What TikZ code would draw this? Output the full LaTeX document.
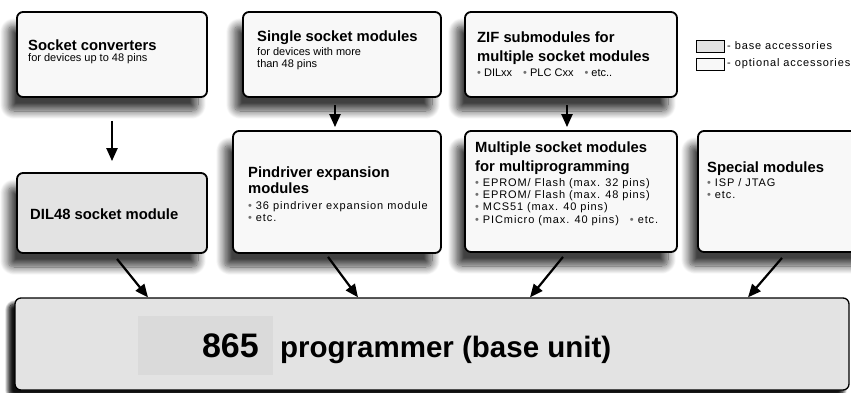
\documentclass[tikz,border=0pt]{standalone}
\usepackage{fontspec}
\setmainfont{Liberation Sans}
\newfontfamily\widefont[LetterSpace=8]{Liberation Sans}
\usetikzlibrary{arrows.meta,shadows.blur}

\definecolor{basefill}{HTML}{E3E3E3}
\definecolor{optfill}{HTML}{F8F8F8}
\definecolor{numfill}{HTML}{DADADA}
\definecolor{dotgray}{HTML}{707070}

\newcommand{\hd}{\fontsize{14.8}{19}\selectfont\bfseries}
\newcommand{\bd}{\fontsize{11}{12.5}\selectfont}
\newcommand{\bdw}{\widefont\fontsize{11}{12.4}\selectfont}
\newcommand{\bul}{{\color{dotgray}\textbullet}\ }

\tikzset{
	box/.style={draw, line width=1.8pt, rounded corners=6pt,
		blur shadow={shadow xshift=-9pt, shadow yshift=-14pt,
			shadow blur radius=8pt, shadow blur steps=14, shadow opacity=75}},
	optbox/.style={box, fill=optfill},
	basebox/.style={box, fill=basefill},
	headtxt/.style={anchor=north west, inner sep=0pt, align=left, font=\hd},
	bodytxt/.style={anchor=north west, inner sep=0pt, align=left, font=\bd},
	widetxt/.style={bodytxt, font=\bdw},
	arr/.style={line width=2.2pt, -{Triangle[length=13pt,width=11pt]}},
	legbox/.style={draw, line width=0.6pt, minimum width=28pt, minimum height=12pt, inner sep=0pt},
}

\begin{document}
\begin{tikzpicture}[x=1pt,y=-1pt]
		\useasboundingbox (0,0) rectangle (851,392);
		
		% top row
		\node[optbox, minimum width=190pt, minimum height=85pt] (conv)   at (112, 54.5) {};
		\node[optbox, minimum width=198pt, minimum height=85pt] (single) at (342, 54.5) {};
		\node[optbox, minimum width=212pt, minimum height=85pt] (zif)    at (571, 54.5) {};
		
		% middle row
		\node[basebox, minimum width=190pt, minimum height=80pt]  (dil)     at (112, 213) {};
		\node[optbox,  minimum width=208pt, minimum height=122pt] (pin)     at (337, 192) {};
		\node[optbox,  minimum width=212pt, minimum height=121pt] (multi)   at (571, 191.5) {};
		\node[optbox,  minimum width=208pt, minimum height=121pt] (special) at (802, 191.5) {};
		
		% base unit
		\node[basebox, line width=1.3pt, minimum width=834pt, minimum height=92pt,
			blur shadow={shadow xshift=-6pt, shadow yshift=-6pt, shadow blur radius=4pt}] (main) at (432, 344) {};
		\node[fill=numfill, minimum width=135pt, minimum height=59pt, inner sep=0pt] (numbox) at (205.5, 345.5) {};
		
		% texts
		\node[headtxt] (conv-h) at (28, 40) {Socket converters};
		\node[bodytxt] (conv-b) at (28, 53) {for devices up to 48 pins};
		
		\node[headtxt] (single-h) at (257, 31) {Single socket modules};
		\node[bodytxt] (single-b) at (257, 47) {for devices with more\\than 48 pins};
		
		\node[headtxt] (zif-h) at (477, 32) {ZIF submodules for\\multiple socket modules};
		\node[bodytxt] (zif-b) at (477, 69) {\bul DILxx\quad \bul PLC Cxx\quad \bul etc..};
		
		\node[headtxt] (dil-h) at (30, 209) {DIL48 socket module};
		
		\node[headtxt] (pin-h) at (248, 167) {Pindriver expansion\\[-3pt]modules};
		\node[widetxt] (pin-b) at (248, 201) {\bul 36 pindriver expansion module\\\bul etc.};
		
		\node[headtxt] (multi-h) at (475, 142) {Multiple socket modules\\for multiprogramming};
		\node[widetxt] (multi-b) at (475, 178) {\bul EPROM/ Flash (max. 32 pins)\\
			\bul EPROM/ Flash (max. 48 pins)\\
			\bul MCS51 (max. 40 pins)\\
			\bul PICmicro (max. 40 pins)\quad \bul etc.};
		
		\node[headtxt] (special-h) at (707, 162) {Special modules};
		\node[widetxt] (special-b) at (707, 178) {\bul ISP / JTAG\\\bul etc.};
		
		\node[anchor=base east, inner sep=0pt, font=\fontsize{34}{34}\selectfont\bfseries] (num) at (259, 357) {865};
		\node[anchor=base west, inner sep=0pt, font=\fontsize{29.5}{29.5}\selectfont\bfseries] (unit) at (280, 357) {programmer (base unit)};
		
		% legend
		\node[legbox, fill=basefill] (leg-base) at (710, 46) {};
		\node[legbox, fill=optfill]  (leg-opt)  at (710, 64) {};
		\node[widetxt, anchor=west] (leg-base-t) at (727, 46) {- base accessories};
		\node[widetxt, anchor=west] (leg-opt-t)  at (727, 64) {- optional accessories};
		
		% arrows
		\draw[arr] ([yshift=-23pt]conv.south) -- ([yshift=11pt]dil.north);
		\draw[arr] ([xshift=-7pt,yshift=-7pt]single.south) -- ([xshift=-2pt,yshift=3pt]pin.north);
		\draw[arr] ([xshift=-4pt,yshift=-7pt]zif.south) -- ([xshift=-4pt,yshift=3pt]multi.north);
		
		\draw[arr] ([xshift=5pt,yshift=-5pt]dil.south) -- ([xshift=-284pt]main.north);
		\draw[arr] ([xshift=-9pt,yshift=-3pt]pin.south) -- ([xshift=-74pt]main.north);
		\draw[arr] ([xshift=-8pt,yshift=-4pt]multi.south) -- ([xshift=98pt]main.north);
		\draw[arr] ([xshift=-20pt,yshift=-5pt]special.south) -- ([xshift=316pt]main.north);
		
\end{tikzpicture}
\end{document}
